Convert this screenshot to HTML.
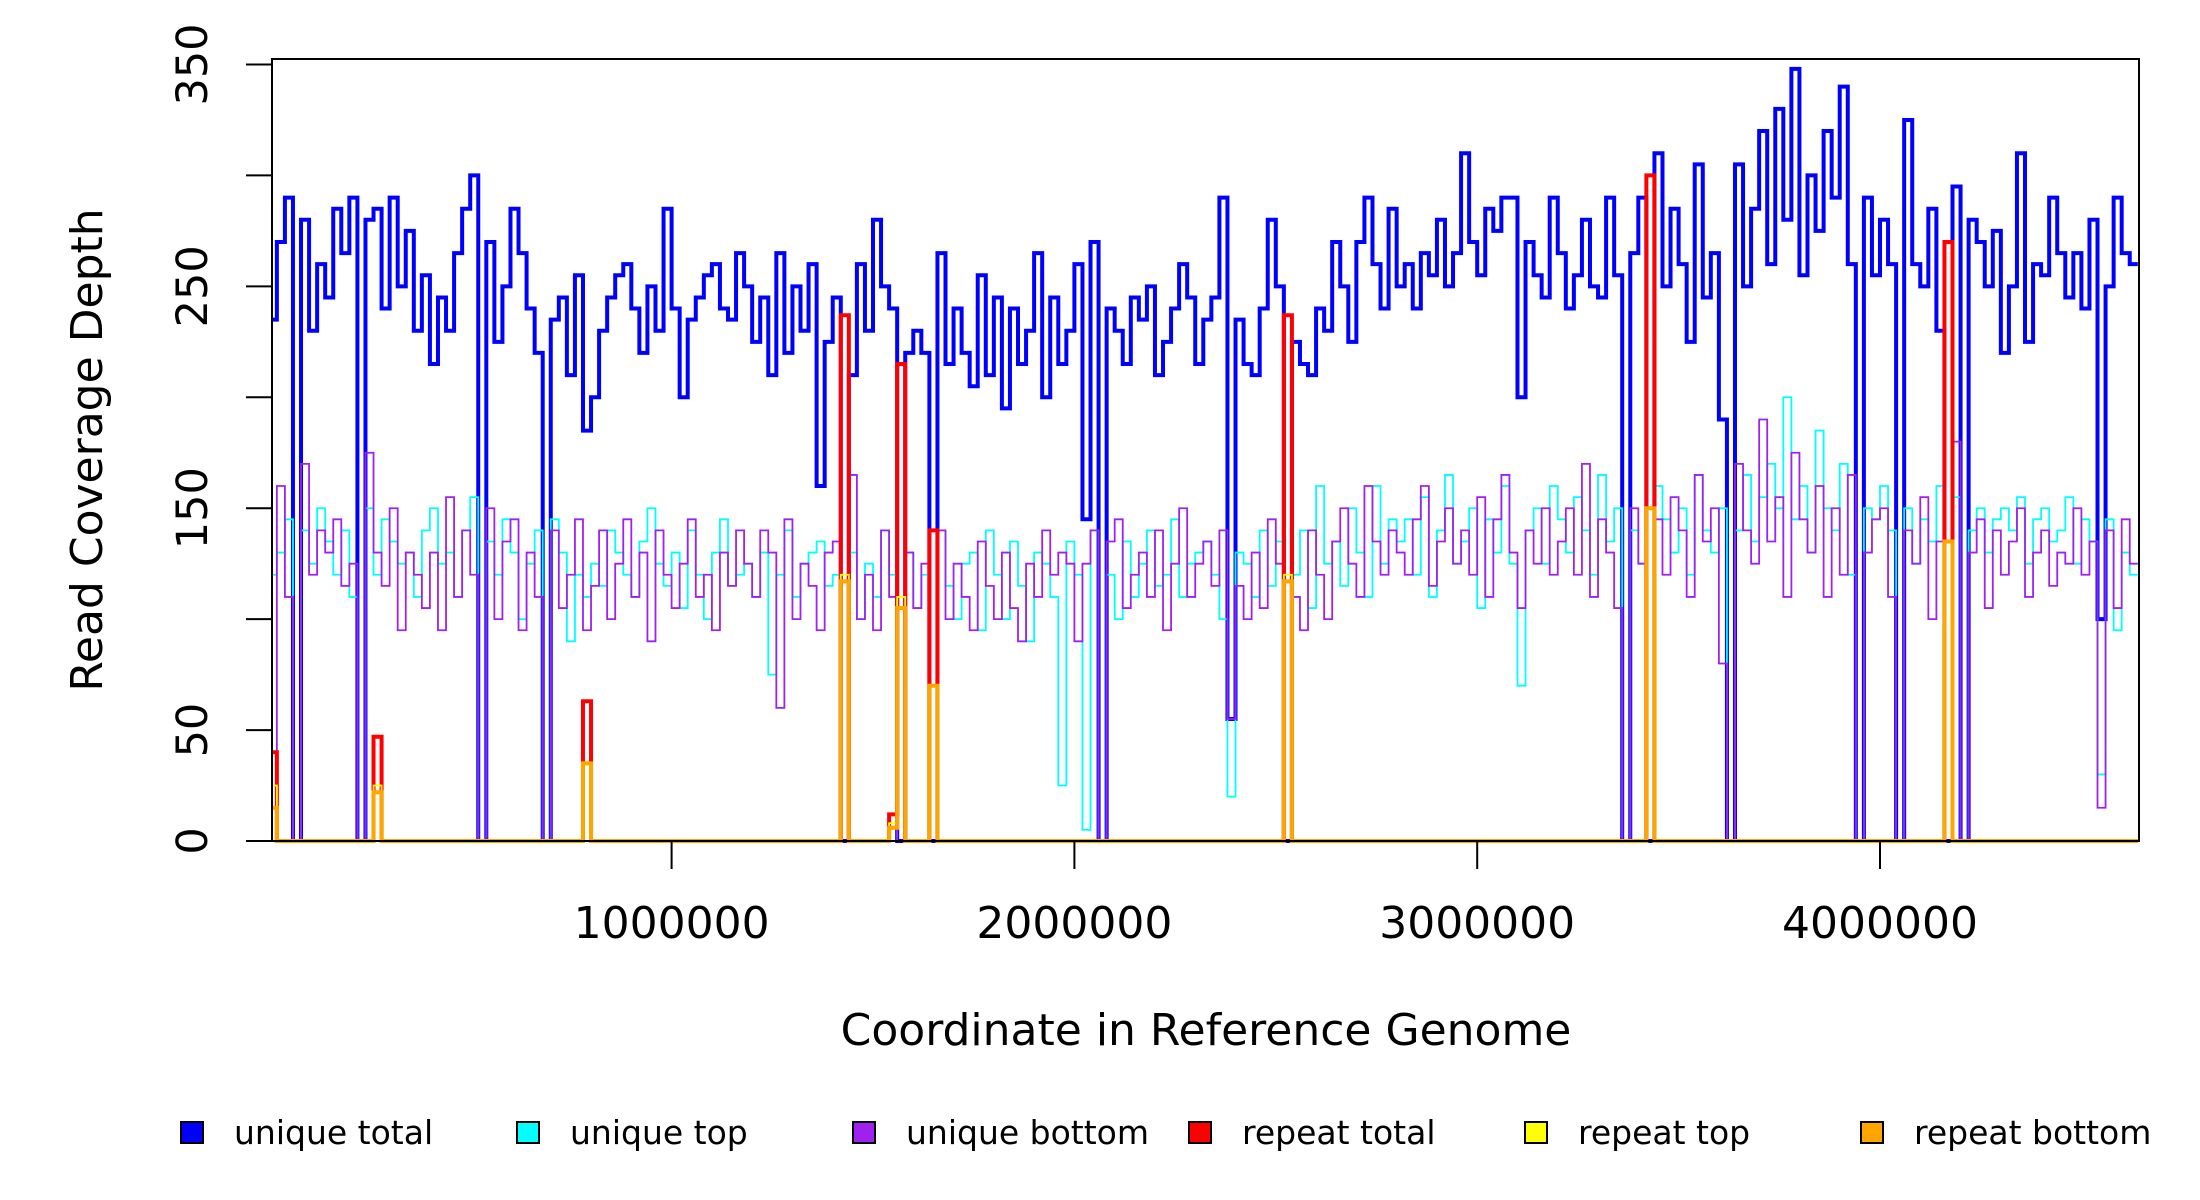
<!DOCTYPE html>
<html><head><meta charset="utf-8"><style>
html,body{margin:0;padding:0;background:#fff;}
svg{display:block;font-family:"DejaVu Sans","Liberation Sans",sans-serif;}
</style></head><body>
<svg id="chart" width="2200" height="1200" viewBox="0 0 2200 1200" xmlns="http://www.w3.org/2000/svg">
<g id="series"></g>
<rect x="272" y="59" width="1867" height="782" fill="none" stroke="#000" stroke-width="2"/>
<g id="axes"></g>
<text x="1206" y="1045" font-size="44" text-anchor="middle">Coordinate in Reference Genome</text>
<text transform="translate(102,450) rotate(-90)" font-size="44" text-anchor="middle">Read Coverage Depth</text>
<g id="legend"></g>
</svg>
<script>
const binSize = 20000;
const genomeLen = 4640000;
const uniqueTotal = [
235,270,290,0,280,230,260,245,285,265,290,0,280,285,240,290,250,275,230,255,
215,245,230,265,285,300,0,270,225,250,285,265,240,220,0,235,245,210,255,185,
200,230,245,255,260,240,220,250,230,285,240,200,235,245,255,260,240,235,265,250,
225,245,210,265,220,250,230,260,160,225,245,0,210,260,230,280,250,240,0,220,
230,220,0,265,215,240,220,205,255,210,245,195,240,215,230,265,200,245,215,230,
260,145,270,0,240,230,215,245,235,250,210,225,240,260,245,215,235,245,290,55,
235,215,210,240,280,250,0,225,215,210,240,230,270,250,225,270,290,260,240,285,
250,260,240,265,255,280,250,265,310,270,255,285,275,290,290,200,270,255,245,290,
265,240,255,280,250,245,290,255,0,265,290,0,310,250,285,260,225,305,245,265,
190,0,305,250,285,320,260,330,280,348,255,300,275,320,290,340,260,0,290,255,
280,260,0,325,260,250,285,230,0,295,0,280,270,250,275,220,250,310,225,260,
255,290,265,245,265,240,280,100,250,290,265,260];
const uniqueTop = [
120,130,145,0,140,125,150,135,120,140,110,0,150,120,145,135,125,130,110,140,
150,125,130,110,140,155,0,135,120,145,130,100,125,140,0,145,130,90,120,110,
125,115,140,130,120,110,135,150,125,115,130,105,140,120,100,130,145,115,120,125,
110,130,75,120,140,110,125,130,135,115,120,0,130,100,125,110,140,120,0,130,
105,120,0,140,115,100,125,130,95,140,120,100,135,115,90,130,125,110,25,135,
120,5,140,0,120,100,135,110,125,140,115,120,145,110,125,130,135,120,100,20,
130,125,110,140,115,135,0,120,140,105,160,125,135,115,150,130,110,160,125,145,
135,145,120,155,110,140,165,125,135,150,105,145,130,160,125,70,140,150,125,160,
145,130,155,140,120,165,135,150,0,140,125,0,160,145,130,150,120,165,140,130,
150,0,140,165,135,155,170,150,200,145,160,130,185,150,140,170,120,0,150,145,
160,140,0,150,125,145,135,160,0,155,0,140,150,130,145,150,140,155,125,145,
150,135,140,155,125,145,135,30,145,95,130,120];
const uniqueBottom = [
40,160,110,0,170,120,140,130,145,115,125,0,175,130,115,150,95,130,120,105,
130,95,155,110,140,120,0,150,100,135,145,95,130,110,0,140,105,120,145,95,
115,140,100,125,145,110,130,90,140,120,105,125,145,110,120,95,130,115,140,125,
110,140,130,60,145,100,125,115,95,130,135,0,165,100,120,95,140,110,0,130,
105,125,0,140,100,125,110,95,135,115,100,130,105,90,125,110,140,120,130,125,
90,125,140,0,135,145,105,120,130,110,140,95,125,150,110,125,135,115,140,55,
115,100,130,105,145,125,0,110,95,140,120,100,135,150,125,110,160,135,120,140,
130,120,145,160,115,135,150,125,140,120,155,110,145,165,130,105,140,125,150,120,
135,150,120,170,110,145,130,105,0,150,125,0,145,120,155,140,110,165,135,150,
80,0,170,140,125,190,135,155,110,175,145,130,160,110,150,120,165,0,130,145,
150,110,0,140,125,155,100,135,0,180,0,130,145,105,140,120,135,150,110,130,
140,115,130,125,150,120,135,15,140,105,145,125];
const repeatBins   = [0,13,39,71,77,78,82,126,171,208];
const repeatTotal  = [40,47,63,237,12,215,140,237,300,270];
const repeatTop    = [25,25,35,120,8,110,70,120,150,135];
const repeatBottom = [15,22,35,117,6,105,70,117,150,135];
const yTicks = [0,50,100,150,200,250,300,350];
const yTickLabels = ["0","50","","150","","250","","350"];
const xTicks = [1000000,2000000,3000000,4000000];
const xTickLabels = ["1000000","2000000","3000000","4000000"];
const legendLabels = ["unique total","unique top","unique bottom","repeat total","repeat top","repeat bottom"];
const legendColors = ["#0000ff","#00ffff","#a020f0","#ff0000","#ffff00","#ffa500"];

const NS = "http://www.w3.org/2000/svg";
function xS(v){ return 268.8 + v/1e6*402.8; }
function yS(v){ return 841 - v*(776.5/350); }
function fullFromSparse(bins, vals){
  const a = new Array(uniqueTotal.length).fill(0);
  bins.forEach((b,i)=>{ a[b]=vals[i]; });
  return a;
}
function stepPath(arr){
  let d = "";
  for(let i=0;i<arr.length;i++){
    const x0 = Math.max(xS(i*binSize),272), x1 = xS(Math.min((i+1)*binSize, genomeLen));
    const y = yS(arr[i]);
    d += (i===0 ? "M"+x0+" "+y : "V"+y) + "H"+x1;
  }
  return d;
}
const series = document.getElementById('series');
function addSeries(arr, color, w, name){
  const p = document.createElementNS(NS,'path');
  p.setAttribute('d', stepPath(arr));
  p.setAttribute('fill','none');
  p.setAttribute('stroke', color);
  p.setAttribute('stroke-width', w);
  
  
  series.appendChild(p);
}
addSeries(uniqueTotal, "#0000ff", 4, "unique-total-line");
addSeries(uniqueTop, "#00ffff", 1.8, "unique-top-line");
addSeries(uniqueBottom, "#a020f0", 1.8, "unique-bottom-line");
addSeries(fullFromSparse(repeatBins, repeatTotal), "#ff0000", 4, "repeat-total-line");
addSeries(fullFromSparse(repeatBins, repeatTop), "#ffff00", 1.8, "repeat-top-line");
addSeries(fullFromSparse(repeatBins, repeatBottom), "#ffa500", 4, "repeat-bottom-line");

const axes = document.getElementById('axes');
yTicks.forEach((t,i)=>{
  const y = yS(t);
  const l = document.createElementNS(NS,'line');
  l.setAttribute('x1',246); l.setAttribute('x2',272);
  l.setAttribute('y1',y); l.setAttribute('y2',y);
  l.setAttribute('stroke','#000'); l.setAttribute('stroke-width',2);
  
  
  axes.appendChild(l);
  if(yTickLabels[i]){
    const tx = document.createElementNS(NS,'text');
    tx.setAttribute('transform','translate(207,'+y+') rotate(-90)');
    tx.setAttribute('text-anchor','middle');
    tx.setAttribute('font-size','43');
    tx.textContent = yTickLabels[i];
    
    
    axes.appendChild(tx);
  }
});
xTicks.forEach((t,i)=>{
  const x = xS(t);
  const l = document.createElementNS(NS,'line');
  l.setAttribute('x1',x); l.setAttribute('x2',x);
  l.setAttribute('y1',841); l.setAttribute('y2',869);
  l.setAttribute('stroke','#000'); l.setAttribute('stroke-width',2);
  
  
  axes.appendChild(l);
  const tx = document.createElementNS(NS,'text');
  tx.setAttribute('x',x); tx.setAttribute('y',938);
  tx.setAttribute('text-anchor','middle');
  tx.setAttribute('font-size','44');
  tx.textContent = xTickLabels[i];
  
  
  axes.appendChild(tx);
});
const legend = document.getElementById('legend');
legendLabels.forEach((lab,i)=>{
  const cx = 192 + i*336;
  const r = document.createElementNS(NS,'rect');
  r.setAttribute('x',cx-11); r.setAttribute('y',1122);
  r.setAttribute('width',22); r.setAttribute('height',21);
  r.setAttribute('fill',legendColors[i]); r.setAttribute('stroke','#000'); r.setAttribute('stroke-width',2);
  
  
  legend.appendChild(r);
  const tx = document.createElementNS(NS,'text');
  tx.setAttribute('x',cx+42); tx.setAttribute('y',1144);
  tx.setAttribute('font-size','33');
  tx.textContent = lab;
  
  
  legend.appendChild(tx);
});
</script>
</body></html>
